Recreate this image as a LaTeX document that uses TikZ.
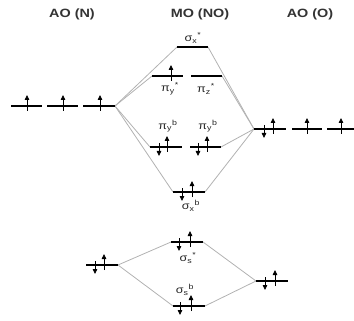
\documentclass[tikz,border=0pt]{standalone}
\usepackage{fontspec}
\setmainfont{Liberation Sans}
\usetikzlibrary{arrows.meta}
\tikzset{
  level/.style={line width=2.2pt,black},
  conn/.style={gray!60,line width=0.8pt},
  elec/.style={line width=0.8pt,-{Triangle[length=5pt,width=4.5pt]}},
  title/.style={font=\fontsize{12}{14}\selectfont\bfseries,text=black!80},
  lab/.style={font=\fontsize{10.5}{12}\selectfont,inner sep=0pt,text=black!85},
  pics/eup/.style={code={\draw[elec] (0,5) -- (0,-11);}},
  pics/edn/.style={code={\draw[elec] (0,-4) -- (0,9);}}
}
\newcommand{\hs}[1]{\scalebox{1.2}[1]{#1}}
\begin{document}
\begin{tikzpicture}[x=1pt,y=-1pt]
\useasboundingbox (0,0) rectangle (354,321);
% titles
\node[title] (tN) at (72,14) {\hs{AO (N)}};
\node[title] (tNO) at (200,14) {\hs{MO (NO)}};
\node[title] (tO) at (310,14) {\hs{AO (O)}};
% N 2p
\coordinate (na1L) at (11,106); \coordinate (na1R) at (42,106);
\coordinate (na2L) at (47,106); \coordinate (na2R) at (78,106);
\coordinate (na3L) at (83,106); \coordinate (na3R) at (115,106);
% O 2p
\coordinate (oa1L) at (254,129); \coordinate (oa1R) at (286,129);
\coordinate (oa2L) at (292,129); \coordinate (oa2R) at (322,129);
\coordinate (oa3L) at (327,129); \coordinate (oa3R) at (356,129);
% MOs
\coordinate (sxsL) at (177,47); \coordinate (sxsR) at (208,47);
\coordinate (pysL) at (152,76); \coordinate (pysR) at (183,76);
\coordinate (pzsL) at (191,76); \coordinate (pzsR) at (222,76);
\coordinate (pybL) at (150,147); \coordinate (pybR) at (182,147);
\coordinate (pzbL) at (190,147); \coordinate (pzbR) at (221,147);
\coordinate (sxbL) at (173,192); \coordinate (sxbR) at (205,192);
% 2s
\coordinate (nsL) at (86,265); \coordinate (nsR) at (118,265);
\coordinate (ssL) at (171,242); \coordinate (ssR) at (203,242);
\coordinate (osL) at (256,281); \coordinate (osR) at (288,281);
\coordinate (sbL) at (173,306); \coordinate (sbR) at (205,306);
% connectors
\draw[conn] (na3R) -- (sxsL);
\draw[conn] (na3R) -- (pysL);
\draw[conn] (na3R) -- (pybL);
\draw[conn] (na3R) -- (sxbL);
\draw[conn] (sxsR) -- (oa1L);
\draw[conn] (pzsR) -- (oa1L);
\draw[conn] (pzbR) -- (oa1L);
\draw[conn] (sxbR) -- (oa1L);
\draw[conn] (nsR) -- (ssL);
\draw[conn] (nsR) -- (sbL);
\draw[conn] (ssR) -- (osL);
\draw[conn] (sbR) -- (osL);
% levels
\foreach \a in {na1,na2,na3,oa1,oa2,oa3,sxs,pys,pzs,pyb,pzb,sxb,ns,ss,os,sb}
  \draw[level] (\a L) -- (\a R);
% electrons
\pic at (27,106) {eup}; \pic at (63,106) {eup}; \pic at (100,106) {eup};
\pic at (264,129) {edn}; \pic at (273,129) {eup};
\pic at (307,129) {eup}; \pic at (341,129) {eup};
\pic at (171,76) {eup};
\pic at (159,147) {edn}; \pic at (167,147) {eup};
\pic at (198,147) {edn}; \pic at (207,147) {eup};
\pic at (182,192) {edn}; \pic at (192,192) {eup};
\pic at (95,265) {edn}; \pic at (104,265) {eup};
\pic at (179,242) {edn}; \pic at (190,242) {eup};
\pic at (265,281) {edn}; \pic at (275,281) {eup};
\pic at (180,306) {edn}; \pic at (191,306) {eup};
% labels
\node[lab] (lsxs) at (193,38) {\hs{σ\textsubscript{x}\textsuperscript{*}}};
\node[lab] (lpys) at (170,89) {\hs{π\textsubscript{y}\textsuperscript{*}}};
\node[lab] (lpzs) at (206,89) {\hs{π\textsubscript{z}\textsuperscript{*}}};
\node[lab] (lpyb) at (168,126) {\hs{π\textsubscript{y}\textsuperscript{b}}};
\node[lab] (lpzb) at (208,126) {\hs{π\textsubscript{y}\textsuperscript{b}}};
\node[lab] (lsxb) at (191,206) {\hs{σ\textsubscript{x}\textsuperscript{b}}};
\node[lab] (lss) at (188,258) {\hs{σ\textsubscript{s}\textsuperscript{*}}};
\node[lab] (lsb) at (185,290) {\hs{σ\textsubscript{s}\textsuperscript{b}}};
\end{tikzpicture}
\end{document}
